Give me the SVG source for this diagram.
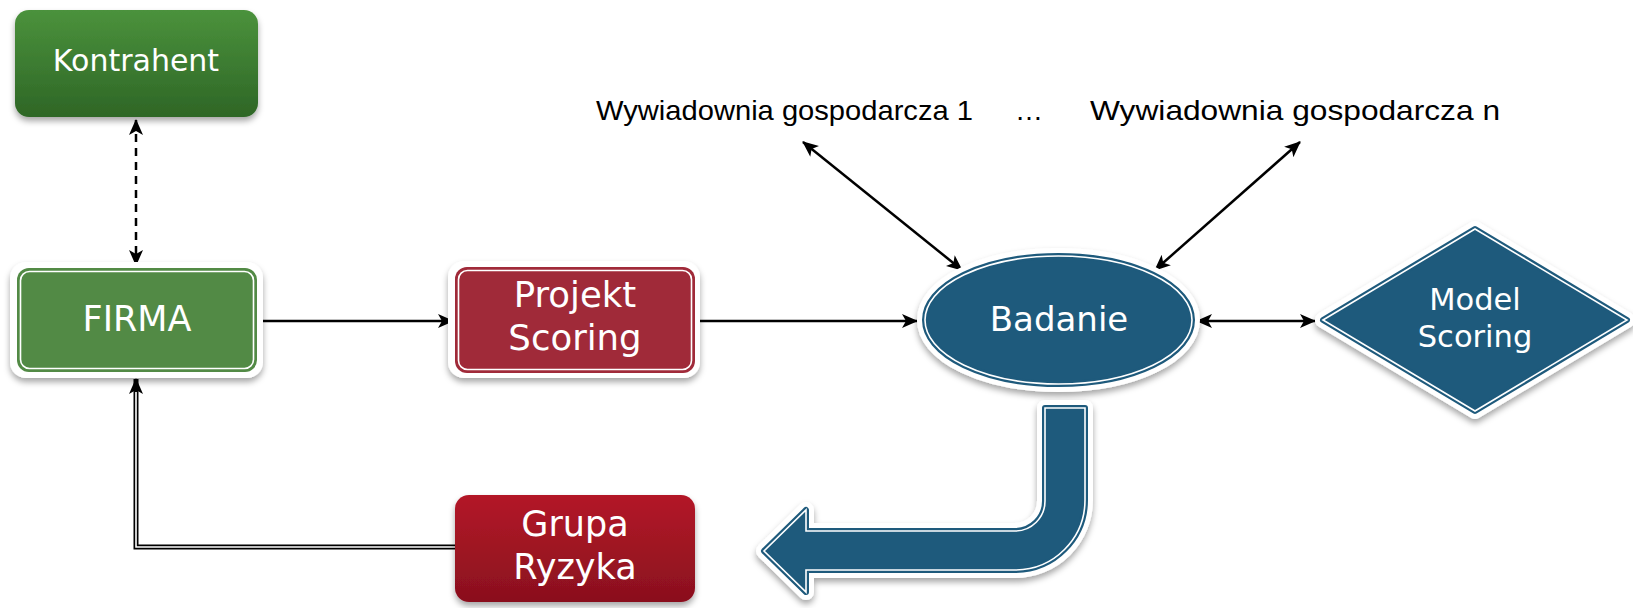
<svg xmlns="http://www.w3.org/2000/svg" width="1633" height="608" viewBox="0 0 1633 608">
  <defs>
    <filter id="shadow" x="-10%" y="-10%" width="120%" height="130%">
      <feDropShadow dx="0" dy="4" stdDeviation="3" flood-color="#000" flood-opacity="0.35"/>
    </filter>
    <linearGradient id="gGreen" x1="0" y1="0" x2="0" y2="1">
      <stop offset="0" stop-color="#4b923c"/>
      <stop offset="1" stop-color="#2e6626"/>
    </linearGradient>
    <linearGradient id="gRed" x1="0" y1="0" x2="0" y2="1">
      <stop offset="0" stop-color="#b31828"/>
      <stop offset="1" stop-color="#8a101e"/>
    </linearGradient>
    <marker id="arrow" viewBox="0 0 16 16" refX="15" refY="8" markerWidth="16" markerHeight="16" markerUnits="userSpaceOnUse" orient="auto-start-reverse">
      <path d="M0,1 L16,8 L0,15 L4,8 z" fill="#000"/>
    </marker>
    <style>
      .label { font-family: "DejaVu Sans", "Liberation Sans", sans-serif; fill: #fff; text-anchor: middle; }
      .note { font-family: "Liberation Sans", Arial, sans-serif; font-size: 28px; fill: #000; }
      .rim { fill: #fff; stroke: #fff; stroke-width: 16; stroke-linejoin: round; filter: url(#shadow); }
      .blue { fill: #1e5a7c; stroke: #1e5a7c; stroke-width: 6; stroke-linejoin: round; }
      .inner { fill: none; stroke: #fff; stroke-width: 1.6; }
      .line { fill: none; stroke: #000; stroke-width: 2.5; }
    </style>
  </defs>

  <rect width="1633" height="608" fill="#fff"/>

  <!-- connectors -->
  <g id="connectors">
    <path class="line" d="M136,120 L136,265" stroke-dasharray="8,6" marker-start="url(#arrow)" marker-end="url(#arrow)"/>
    <path class="line" d="M257,321 L453,321" marker-end="url(#arrow)"/>
    <path class="line" d="M700,321 L917,321" marker-end="url(#arrow)"/>
    <path class="line" d="M803,142 L962,270" marker-start="url(#arrow)" marker-end="url(#arrow)"/>
    <path class="line" d="M1300,142 L1155,270" marker-start="url(#arrow)" marker-end="url(#arrow)"/>
    <path class="line" d="M1197,321 L1315,321" marker-start="url(#arrow)" marker-end="url(#arrow)"/>
    <!-- double line from Grupa Ryzyka back to FIRMA -->
    <path d="M455,547 L136,547 L136,379" fill="none" stroke="#000" stroke-width="5" marker-end="url(#arrow)"/>
    <path d="M455,547 L136,547 L136,392" fill="none" stroke="#fff" stroke-width="1.6"/>
  </g>

  <g id="kontrahent">
    <rect x="15" y="10" width="243" height="107" rx="14" fill="url(#gGreen)" filter="url(#shadow)"/>
    <text class="label" x="136" y="71" font-size="30">Kontrahent</text>
  </g>

  <g id="firma">
    <rect x="10" y="262" width="253" height="116" rx="16" fill="#fff" filter="url(#shadow)"/>
    <rect x="17" y="268" width="240" height="104" rx="12" fill="#528a45"/>
    <rect x="20.5" y="271.5" width="233" height="97" rx="9" class="inner"/>
    <text class="label" x="137" y="331" font-size="35">FIRMA</text>
  </g>

  <g id="projekt-scoring">
    <rect x="448" y="261" width="252" height="117" rx="16" fill="#fff" filter="url(#shadow)"/>
    <rect x="455" y="267" width="240" height="106" rx="12" fill="#a02a39"/>
    <rect x="458.5" y="270.5" width="233" height="99" rx="9" class="inner"/>
    <text class="label" font-size="35.5"><tspan x="575" y="307">Projekt</tspan><tspan x="575" y="350">Scoring</tspan></text>
  </g>

  <g id="badanie">
    <ellipse class="rim" cx="1058.5" cy="320" rx="133.5" ry="64"/>
    <ellipse class="blue" cx="1058.5" cy="320" rx="133.5" ry="64"/>
    <ellipse class="inner" cx="1058.5" cy="320" rx="133.5" ry="64"/>
    <text class="label" x="1059" y="331" font-size="34">Badanie</text>
  </g>

  <g id="model-scoring">
    <path class="rim" d="M1323,320 L1475,229 L1627,320 L1475,411 Z"/>
    <path class="blue" d="M1323,320 L1475,229 L1627,320 L1475,411 Z"/>
    <path class="inner" d="M1323,320 L1475,229 L1627,320 L1475,411 Z"/>
    <text class="label" font-size="30.5"><tspan x="1475" y="310">Model</tspan><tspan x="1475" y="347">Scoring</tspan></text>
  </g>

  <g id="flow-arrow">
    <path class="rim" d="M1045,408 L1085,408 L1085,500 A70,70 0 0 1 1015,570 L806,570 L806,592 L764,551 L806,510 L806,531 L1015,531 A30,30 0 0 0 1045,501 Z"/>
    <path class="blue" d="M1045,408 L1085,408 L1085,500 A70,70 0 0 1 1015,570 L806,570 L806,592 L764,551 L806,510 L806,531 L1015,531 A30,30 0 0 0 1045,501 Z"/>
    <path class="inner" d="M1045,408 L1085,408 L1085,500 A70,70 0 0 1 1015,570 L806,570 L806,592 L764,551 L806,510 L806,531 L1015,531 A30,30 0 0 0 1045,501 Z"/>
  </g>

  <g id="grupa-ryzyka">
    <rect x="455" y="495" width="240" height="107" rx="14" fill="url(#gRed)" filter="url(#shadow)"/>
    <text class="label" font-size="35"><tspan x="575" y="536">Grupa</tspan><tspan x="575" y="579">Ryzyka</tspan></text>
  </g>

  <g id="wywiadownia-1">
    <text class="note" x="596" y="120" textLength="377" lengthAdjust="spacingAndGlyphs">Wywiadownia gospodarcza 1</text>
    <text class="note" x="1015" y="120">…</text>
  </g>

  <g id="wywiadownia-n">
    <text class="note" x="1090" y="120" textLength="410" lengthAdjust="spacingAndGlyphs">Wywiadownia gospodarcza n</text>
  </g>
</svg>
